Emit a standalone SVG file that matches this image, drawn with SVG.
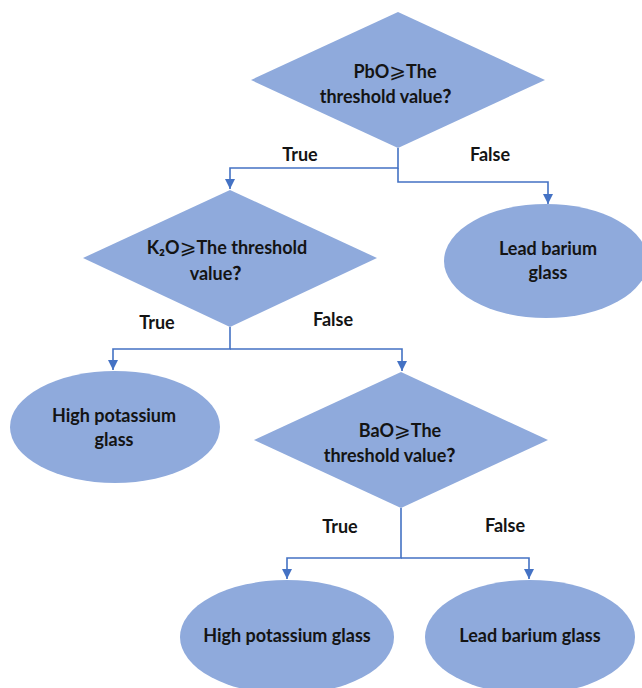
<svg xmlns="http://www.w3.org/2000/svg" width="642" height="688" viewBox="0 0 642 688">
<defs>
<style>
.shape{fill:#8faadc;stroke:none}
.t{font-family:Lato,"Liberation Sans","Noto Sans CJK SC",sans-serif;font-weight:bold;font-size:18px;fill:#141414;text-anchor:middle}
.sym{font-family:"DejaVu Sans",sans-serif;font-weight:normal;font-size:20px}
.q{font-family:"Noto Sans CJK SC",sans-serif;font-weight:bold}
.c{fill:none;stroke:#4472c4;stroke-width:1.6}
</style>
<marker id="ah" viewBox="0 0 10 10" refX="10" refY="5" markerWidth="10" markerHeight="10" markerUnits="userSpaceOnUse" orient="auto">
<path d="M0,0 L10,5 L0,10 Z" fill="#4472c4"/>
</marker>
</defs>
<rect width="642" height="688" fill="#fff"/>
<g id="connectors">
<polyline class="c" points="398,148 398,168 230,168 230,189" marker-end="url(#ah)"/>
<polyline class="c" points="398,168 398,182 548,182 548,204" marker-end="url(#ah)"/>
<polyline class="c" points="230,327 230,349 113,349 113,370" marker-end="url(#ah)"/>
<polyline class="c" points="230,349 402,349 402,371" marker-end="url(#ah)"/>
<polyline class="c" points="401,508 401,558 287,558 287,579" marker-end="url(#ah)"/>
<polyline class="c" points="401,558 529,558 529,579" marker-end="url(#ah)"/>
</g>
<g id="labels">
<text class="t" x="300" y="161">True</text>
<text class="t" x="490" y="161">False</text>
<text class="t" x="157" y="329">True</text>
<text class="t" x="333" y="326">False</text>
<text class="t" x="340" y="533">True</text>
<text class="t" x="505" y="532">False</text>
</g>
<g id="d1">
<polygon class="shape" points="398,12 545,80 398,148 251,80"/>
<text class="t" x="395" y="78">PbO<tspan class="sym">⩾</tspan>The</text>
<text class="t" x="390" y="103">threshold value<tspan class="q">？</tspan></text>
</g>
<g id="d2">
<polygon class="shape" points="230,190 377,258 230,327 83,258"/>
<text class="t" x="227" y="254">K₂O<tspan class="sym">⩾</tspan>The threshold</text>
<text class="t" x="220" y="280">value<tspan class="q">？</tspan></text>
</g>
<g id="d3">
<polygon class="shape" points="401,372 548,440 401,508 254,440"/>
<text class="t" x="400" y="437">BaO<tspan class="sym">⩾</tspan>The</text>
<text class="t" x="394" y="462">threshold value<tspan class="q">？</tspan></text>
</g>
<g id="e1">
<ellipse class="shape" cx="546" cy="261" rx="102" ry="57"/>
<text class="t" x="548" y="255">Lead barium</text>
<text class="t" x="548" y="279">glass</text>
</g>
<g id="e2">
<ellipse class="shape" cx="115" cy="427" rx="105" ry="56"/>
<text class="t" x="114" y="422">High potassium</text>
<text class="t" x="114" y="446">glass</text>
</g>
<g id="e3">
<ellipse class="shape" cx="287" cy="637" rx="107" ry="57"/>
<text class="t" x="287" y="642">High potassium glass</text>
</g>
<g id="e4">
<ellipse class="shape" cx="530" cy="637" rx="105" ry="57"/>
<text class="t" x="530" y="642">Lead barium glass</text>
</g>
</svg>
